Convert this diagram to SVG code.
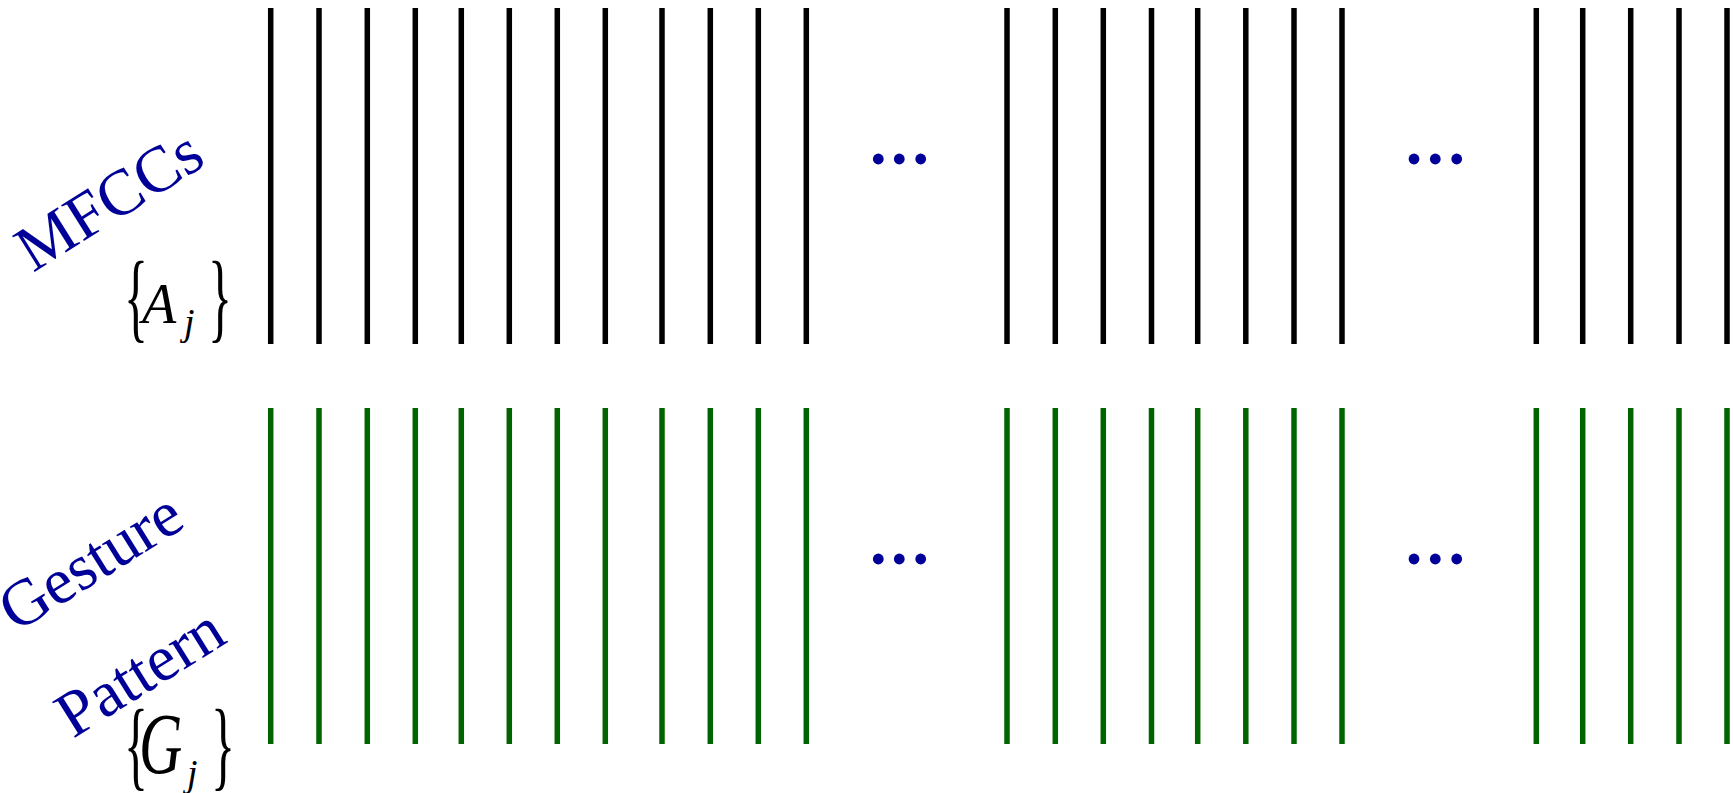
<svg xmlns="http://www.w3.org/2000/svg" width="1733" height="793" viewBox="0 0 1733 793">
<style>
.blk{stroke:#000;stroke-width:5.5}
.grn{stroke:#006400;stroke-width:5.5}
.dot{fill:#000099}
.lbl{font-family:"Liberation Serif","Times New Roman",serif;fill:#000099;font-size:65px}
.math{font-family:"Liberation Serif","Times New Roman",serif;fill:#000}
</style>
<rect width="1733" height="793" fill="#fff"/>
<g id="connectors">
<g id="mfcc-lines" class="blk">
<line x1="270.7" y1="8" x2="270.7" y2="344"/>
<line x1="319" y1="8" x2="319" y2="344"/>
<line x1="367.3" y1="8" x2="367.3" y2="344"/>
<line x1="415.3" y1="8" x2="415.3" y2="344"/>
<line x1="461.3" y1="8" x2="461.3" y2="344"/>
<line x1="509.3" y1="8" x2="509.3" y2="344"/>
<line x1="557.3" y1="8" x2="557.3" y2="344"/>
<line x1="605.3" y1="8" x2="605.3" y2="344"/>
<line x1="662" y1="8" x2="662" y2="344"/>
<line x1="710.3" y1="8" x2="710.3" y2="344"/>
<line x1="758.3" y1="8" x2="758.3" y2="344"/>
<line x1="806.3" y1="8" x2="806.3" y2="344"/>
<line x1="1007" y1="8" x2="1007" y2="344"/>
<line x1="1055.3" y1="8" x2="1055.3" y2="344"/>
<line x1="1103.3" y1="8" x2="1103.3" y2="344"/>
<line x1="1151.5" y1="8" x2="1151.5" y2="344"/>
<line x1="1197.7" y1="8" x2="1197.7" y2="344"/>
<line x1="1245.8" y1="8" x2="1245.8" y2="344"/>
<line x1="1294" y1="8" x2="1294" y2="344"/>
<line x1="1342" y1="8" x2="1342" y2="344"/>
<line x1="1536.3" y1="8" x2="1536.3" y2="344"/>
<line x1="1582.7" y1="8" x2="1582.7" y2="344"/>
<line x1="1630.7" y1="8" x2="1630.7" y2="344"/>
<line x1="1679" y1="8" x2="1679" y2="344"/>
<line x1="1727" y1="8" x2="1727" y2="344"/>
</g>
<g id="gesture-lines" class="grn">
<line x1="270.7" y1="408" x2="270.7" y2="744"/>
<line x1="319" y1="408" x2="319" y2="744"/>
<line x1="367.3" y1="408" x2="367.3" y2="744"/>
<line x1="415.3" y1="408" x2="415.3" y2="744"/>
<line x1="461.3" y1="408" x2="461.3" y2="744"/>
<line x1="509.3" y1="408" x2="509.3" y2="744"/>
<line x1="557.3" y1="408" x2="557.3" y2="744"/>
<line x1="605.3" y1="408" x2="605.3" y2="744"/>
<line x1="662" y1="408" x2="662" y2="744"/>
<line x1="710.3" y1="408" x2="710.3" y2="744"/>
<line x1="758.3" y1="408" x2="758.3" y2="744"/>
<line x1="806.3" y1="408" x2="806.3" y2="744"/>
<line x1="1007" y1="408" x2="1007" y2="744"/>
<line x1="1055.3" y1="408" x2="1055.3" y2="744"/>
<line x1="1103.3" y1="408" x2="1103.3" y2="744"/>
<line x1="1151.5" y1="408" x2="1151.5" y2="744"/>
<line x1="1197.7" y1="408" x2="1197.7" y2="744"/>
<line x1="1245.8" y1="408" x2="1245.8" y2="744"/>
<line x1="1294" y1="408" x2="1294" y2="744"/>
<line x1="1342" y1="408" x2="1342" y2="744"/>
<line x1="1536.3" y1="408" x2="1536.3" y2="744"/>
<line x1="1582.7" y1="408" x2="1582.7" y2="744"/>
<line x1="1630.7" y1="408" x2="1630.7" y2="744"/>
<line x1="1679" y1="408" x2="1679" y2="744"/>
<line x1="1727" y1="408" x2="1727" y2="744"/>
</g>
</g>
<g id="ellipses" class="dot">
<circle cx="878.3" cy="159" r="5.4"/><circle cx="899.3" cy="159" r="5.4"/><circle cx="920.7" cy="159" r="5.4"/>
<circle cx="1414" cy="159" r="5.4"/><circle cx="1435.3" cy="159" r="5.4"/><circle cx="1456.7" cy="159" r="5.4"/>
<circle cx="878.3" cy="559" r="5.4"/><circle cx="899.3" cy="559" r="5.4"/><circle cx="920.7" cy="559" r="5.4"/>
<circle cx="1414" cy="559" r="5.4"/><circle cx="1435.3" cy="559" r="5.4"/><circle cx="1456.7" cy="559" r="5.4"/>
</g>
<g id="label-mfcc">
<text class="lbl" transform="translate(33,273) rotate(-32)">MFCCs</text>
</g>
<g id="label-A">
<text class="math" font-size="50" transform="translate(124,330) scale(1,2)">{</text>
<text class="math" font-size="56" font-style="italic" x="142" y="323">A</text>
<text class="math" font-size="38" font-style="italic" x="184" y="335">j</text>
<text class="math" font-size="50" transform="translate(208,330) scale(1,2)">}</text>
</g>
<g id="label-gesture">
<text class="lbl" transform="translate(16,633) rotate(-32)">Gesture</text>
<text class="lbl" transform="translate(73,739) rotate(-32)">Pattern</text>
</g>
<g id="label-G">
<text class="math" font-size="50" transform="translate(124,778) scale(1,2)">{</text>
<text class="math" font-size="60" font-style="italic" transform="translate(139,773) scale(1,1.45)">G</text>
<text class="math" font-size="38" font-style="italic" x="187" y="786">j</text>
<text class="math" font-size="50" transform="translate(211,778) scale(1,2)">}</text>
</g>
</svg>
